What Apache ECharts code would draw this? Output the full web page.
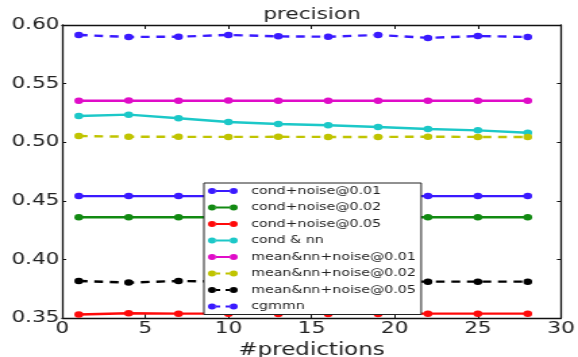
<!DOCTYPE html>
<html>
<head>
<meta charset="utf-8">
<script src="https://cdn.jsdelivr.net/npm/echarts@6/dist/echarts.min.js"></script>
<style>
  html, body { margin: 0; padding: 0; background: #fff; overflow: hidden; }
  #wrap { width: 578px; height: 357px; overflow: hidden; position: relative; }
  #chart { width: 428px; height: 357px; transform: scaleX(1.3505); transform-origin: 0 0; }
</style>
</head>
<body>
<div id="wrap"><div id="chart"></div></div>
<script>
const predictions = [1, 4, 7, 10, 13, 16, 19, 22, 25, 28];
const seriesNames = [
  'cond+noise@0.01', 'cond+noise@0.02', 'cond+noise@0.05', 'cond & nn',
  'mean&nn+noise@0.01', 'mean&nn+noise@0.02', 'mean&nn+noise@0.05', 'cgmmn'
];
const condNoise001 = [0.454, 0.454, 0.454, 0.454, 0.454, 0.454, 0.454, 0.454, 0.454, 0.454];
const condNoise002 = [0.436, 0.436, 0.436, 0.436, 0.436, 0.436, 0.436, 0.436, 0.436, 0.436];
const condNoise005 = [0.353, 0.354, 0.3537, 0.3537, 0.3535, 0.3535, 0.3535, 0.3537, 0.3537, 0.3537];
const condNN = [0.5224, 0.5235, 0.5204, 0.5172, 0.5155, 0.5144, 0.513, 0.5113, 0.5101, 0.5081];
const meanNoise001 = [0.5354, 0.5355, 0.5354, 0.5355, 0.5354, 0.5354, 0.5354, 0.5354, 0.5354, 0.5354];
const meanNoise002 = [0.5053, 0.5047, 0.5046, 0.5045, 0.5046, 0.5045, 0.5045, 0.5047, 0.5045, 0.5044];
const meanNoise005 = [0.3816, 0.3802, 0.3816, 0.381, 0.381, 0.381, 0.381, 0.381, 0.381, 0.381];
const cgmmn = [0.5915, 0.5898, 0.590, 0.5915, 0.5903, 0.590, 0.5915, 0.589, 0.5906, 0.5898];
const xTicks = { min: 0, max: 30, interval: 5 };
const yTicks = { min: 0.35, max: 0.60, interval: 0.05 };

const allValues = [condNoise001, condNoise002, condNoise005, condNN, meanNoise001, meanNoise002, meanNoise005, cgmmn];
const colors = ['#3a1aff', '#128a12', '#ff0a0a', '#1cc8c8', '#e00cc8', '#c0c400', '#000000', '#3a1aff'];
const dashed = [false, false, false, false, false, true, true, true];

// legend glyphs (matplotlib style: two markers joined by a line, or two dash pieces)
const corners = 'M0,0L0.01,0L0,0.01Z M22,12L21.99,12L22,11.99Z ';
const dots = 'M0,6a3,3 0 1,0 6,0a3,3 0 1,0 -6,0Z M16,6a3,3 0 1,0 6,0a3,3 0 1,0 -6,0Z ';
const solidIcon = 'path://' + corners + dots + 'M5.8,5L16.2,5L16.2,7L5.8,7Z';
const dashIcon = 'path://' + corners + dots + 'M5.8,5L9,5L9,7L5.8,7Z M13,5L16.2,5L16.2,7L13,7Z';

const FONT = 'DejaVu Sans';
const chart = echarts.init(document.getElementById('chart'), null, { renderer: 'canvas' });

const series = seriesNames.map((name, i) => ({
  name: name,
  type: 'line',
  xAxisIndex: 0,
  yAxisIndex: 0,
  data: predictions.map((x, j) => [x, allValues[i][j]]),
  symbol: 'circle',
  symbolSize: 6.5,
  showSymbol: true,
  color: colors[i],
  itemStyle: { color: colors[i] },
  lineStyle: { color: colors[i], width: 2.4, type: dashed[i] ? [6.5, 5] : 'solid' },
  emphasis: { disabled: true },
  z: 2 + i
}));

const axisLine = { show: true, onZero: false, lineStyle: { color: '#111', width: 1.3 } };

chart.setOption({
  animation: false,
  backgroundColor: '#ffffff',
  textStyle: { fontFamily: FONT },
  title: {
    text: 'precision',
    left: 231,
    top: 7,
    textAlign: 'center',
    padding: 0,
    textStyle: { fontFamily: FONT, fontSize: 16, fontWeight: 'normal', color: '#222', lineHeight: 16 }
  },
  grid: { left: 46, right: 12.6, top: 25, bottom: 39, containLabel: false, outerBoundsMode: 'none' },
  xAxis: [
    {
      type: 'value', position: 'bottom',
      min: xTicks.min, max: xTicks.max, interval: xTicks.interval,
      name: '#predictions', nameLocation: 'middle', nameGap: 22,
      nameTextStyle: { fontFamily: FONT, fontSize: 17, color: '#222' },
      axisLine: axisLine,
      axisTick: { show: true, inside: true, length: 4, lineStyle: { color: '#111' } },
      axisLabel: { fontFamily: FONT, fontSize: 16, color: '#222', margin: 3 },
      splitLine: { show: false }
    },
    {
      type: 'value', position: 'top',
      min: xTicks.min, max: xTicks.max, interval: xTicks.interval,
      axisLine: axisLine,
      axisTick: { show: true, inside: true, length: 4, lineStyle: { color: '#111' } },
      axisLabel: { show: false },
      splitLine: { show: false }
    }
  ],
  yAxis: [
    {
      type: 'value', position: 'left',
      min: yTicks.min, max: yTicks.max, interval: yTicks.interval,
      axisLine: axisLine,
      axisTick: { show: true, inside: true, length: 3, lineStyle: { color: '#111' } },
      axisLabel: { fontFamily: FONT, fontSize: 16, color: '#222', margin: 2, formatter: v => v.toFixed(2) },
      splitLine: { show: false }
    },
    {
      type: 'value', position: 'right',
      min: yTicks.min, max: yTicks.max, interval: yTicks.interval,
      axisLine: axisLine,
      axisTick: { show: true, inside: true, length: 3, lineStyle: { color: '#111' } },
      axisLabel: { show: false },
      splitLine: { show: false }
    }
  ],
  legend: {
    show: true,
    orient: 'vertical',
    left: 151,
    top: 183,
    padding: [2, 4, 2, 3],
    itemWidth: 22,
    itemHeight: 12,
    itemGap: 4.5,
    backgroundColor: '#ffffff',
    borderColor: '#222',
    borderWidth: 1,
    borderRadius: 0,
    data: seriesNames.map((n, i) => ({ name: n, icon: dashed[i] ? dashIcon : solidIcon, itemStyle: { color: colors[i] } })),
    textStyle: { fontFamily: FONT, fontSize: 10.5, color: '#222', lineHeight: 12, padding: [0, 0, 0, 5] },
    selectedMode: false,
    z: 20
  },
  series: series
});
</script>
</body>
</html>
